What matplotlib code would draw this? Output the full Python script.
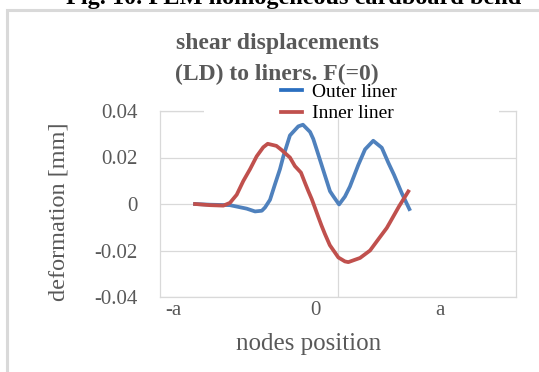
import matplotlib
matplotlib.use("Agg")
import matplotlib.pyplot as plt
from matplotlib.patches import Rectangle

# node positions (axis runs -1 .. 1, vertical grid line at 0)
outer_x = [-0.803, -0.719, -0.607, -0.513, -0.466, -0.428, -0.410, -0.382, -0.354,
           -0.326, -0.307, -0.270, -0.223, -0.197, -0.157, -0.139, -0.120, -0.083,
           -0.045, -0.026, 0.006, 0.039, 0.067, 0.114, 0.152, 0.198, 0.246, 0.283,
           0.315, 0.358, 0.401]
outer_y = [0.0, -0.0003, -0.0005, -0.002, -0.0032, -0.0029, -0.0015, 0.0018, 0.0085,
           0.015, 0.0205, 0.0295, 0.0334, 0.0341, 0.031, 0.028, 0.0235, 0.0146,
           0.0055, 0.0033, -0.0002, 0.0032, 0.0075, 0.0168, 0.0235, 0.0272, 0.0242, 0.0177,
           0.0125, 0.0047, -0.0022]

inner_x = [-0.803, -0.719, -0.644, -0.607, -0.569, -0.532, -0.494, -0.457, -0.420,
           -0.395, -0.346, -0.318, -0.270, -0.242, -0.208, -0.185, -0.167, -0.148,
           -0.129, -0.111, -0.093, -0.074, -0.046, 0.002, 0.039, 0.058, 0.124, 0.180,
           0.236, 0.274, 0.292, 0.343, 0.395]
inner_y = [0.0, -0.0005, -0.0007, 0.0005, 0.004, 0.0099, 0.015, 0.0205, 0.0244,
           0.0259, 0.025, 0.0233, 0.020, 0.0163, 0.0135, 0.009, 0.0056, 0.0022,
           -0.0017, -0.0055, -0.0092, -0.0128, -0.0177, -0.023, -0.0247, -0.025, -0.0232, -0.020,
           -0.0142, -0.0103, -0.0079, -0.001, 0.0054]

xtick_pos = [-0.927, -0.124, 0.573]
xtick_labels = ["-a", "0", "a"]
ytick_vals = [-0.04, -0.02, 0, 0.02, 0.04]
ytick_labels = ["-0.04", "-0.02", "0", "0.02", "0.04"]

plt.rcParams['font.family'] = ['Liberation Serif', 'DejaVu Serif']
grey = '#595959'
gridc = '#d9d9d9'

fig = plt.figure(figsize=(5.39, 3.72), dpi=100)

# outer frame of the chart, with the cut-off caption above it
fig.text(0.545, 1 - 4 / 372, "Fig. 10. FEM homogeneous cardboard bend", ha='center',
         va='baseline', fontsize=17.5, fontweight='bold', color='black', zorder=0.2)
frame = Rectangle((7 / 539, -0.1), 1.1, 1.1 - 10 / 372, transform=fig.transFigure,
                  facecolor='white', edgecolor=gridc, linewidth=2.2, zorder=0.5)
fig.patches.append(frame)

ax = fig.add_axes([160 / 539, 1 - 297 / 372, 356 / 539, 186 / 372])
ax.set_zorder(1)
ax.patch.set_alpha(0)

ax.plot(outer_x, outer_y, color='#4f81bd', lw=2.7, label='Outer liner', zorder=3,
        solid_joinstyle='round')
ax.plot(inner_x, inner_y, color='#c0504d', lw=2.7, label='Inner liner', zorder=3,
        solid_joinstyle='round')

ax.set_xlim(-1, 1)
ax.set_ylim(-0.04, 0.04)
ax.set_yticks(ytick_vals, ytick_labels)
ax.set_xticks(xtick_pos, xtick_labels)
ax.tick_params(length=0, labelsize=15, colors=grey)
ax.tick_params(axis='y', pad=16)
ax.tick_params(axis='x', pad=3)
for v in ytick_vals:
    ax.axhline(v, color=gridc, lw=0.9, zorder=1)
ax.axvline(0, color=gridc, lw=0.9, zorder=1)
for s in ax.spines.values():
    s.set_color(gridc)
    s.set_linewidth(0.9)

# white box behind the legend hides part of the top border
ax.add_patch(Rectangle((0.124, 0.985), 0.828, 0.04, transform=ax.transAxes,
                       facecolor='white', edgecolor='none', clip_on=False, zorder=4))

ax.set_ylabel("deformation [mm]", fontsize=17.5, color=grey, va='center')
ax.yaxis.set_label_coords(-0.284, 0.457)
ax.set_xlabel("nodes position", fontsize=18, color=grey, va='center')
ax.xaxis.set_label_coords(0.416, -0.255)

leg = ax.legend(loc='upper left', bbox_to_anchor=(281 / 539, 1 - 83 / 372),
                bbox_transform=fig.transFigure, frameon=False, fontsize=14,
                handlelength=1.08, handletextpad=0.5, labelspacing=0.22,
                borderpad=0, borderaxespad=0)
leg.set_zorder(6)
leg.legend_handles[0].set_color('#2a6fc0')

fig.text(277 / 539, 1 - 43 / 372, "shear displacements", ha='center', va='center',
         fontsize=17, fontweight='bold', color=grey, zorder=2)
fig.text(277 / 539, 1 - 74 / 372, "(LD) to liners. F(=0)", ha='center', va='center',
         fontsize=17, fontweight='bold', color=grey, zorder=2)

fig.savefig("out.png", dpi=100)
